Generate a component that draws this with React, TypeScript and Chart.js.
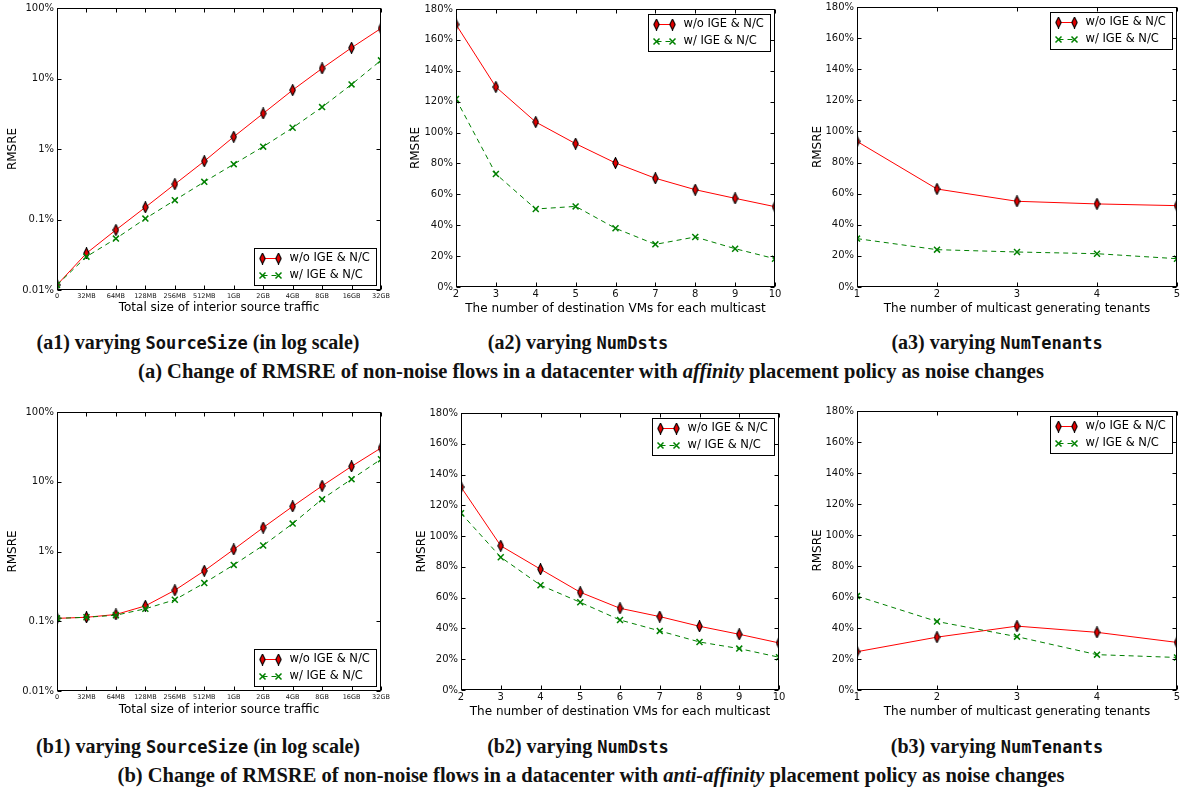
import React, { useEffect, useRef } from 'react';
import { Chart, registerables } from 'chart.js';

Chart.register(...registerables);

// ---------------- data ----------------
const SERIES_NAMES = ['w/o IGE & N/C', 'w/ IGE & N/C'];
const Y_TITLE = 'RMSRE';

const sizeLabels = ['0', '32MB', '64MB', '128MB', '256MB', '512MB', '1GB', '2GB', '4GB', '8GB', '16GB', '32GB'];
const dstLabels = ['2', '3', '4', '5', '6', '7', '8', '9', '10'];
const tenantLabels = ['1', '2', '3', '4', '5'];

const logTickValues = [0.01, 0.1, 1, 10, 100];
const linTickValues = [0, 20, 40, 60, 80, 100, 120, 140, 160, 180];

// (a) affinity
const a1Without = [0.0118, 0.0332, 0.0711, 0.149, 0.317, 0.671, 1.49, 3.19, 6.85, 13.9, 27.3, 51.4];
const a1With = [0.0118, 0.0297, 0.0536, 0.103, 0.188, 0.342, 0.609, 1.08, 2.0, 3.93, 8.24, 18.1];
const a2Without = [170, 129.5, 106.8, 92.8, 80.3, 70.4, 63.0, 57.4, 52.0];
const a2With = [121.7, 73.2, 50.5, 52.2, 38.0, 27.6, 32.4, 24.8, 18.3];
const a3Without = [93.6, 63.0, 55.1, 53.4, 52.3];
const a3With = [31.1, 24.0, 22.5, 21.4, 18.2];

// (b) anti-affinity
const b1Without = [0.11, 0.114, 0.125, 0.166, 0.278, 0.528, 1.07, 2.2, 4.43, 8.71, 16.6, 30.5];
const b1With = [0.11, 0.114, 0.122, 0.151, 0.203, 0.353, 0.643, 1.22, 2.51, 5.63, 10.9, 21.0];
const b2Without = [131.9, 93.7, 78.5, 63.5, 53.1, 47.7, 41.4, 36.2, 30.6];
const b2With = [114.9, 86.3, 68.1, 57.0, 45.5, 38.4, 31.2, 26.9, 21.3];
const b3Without = [24.7, 34.1, 41.2, 37.2, 30.7];
const b3With = [60.6, 44.2, 34.4, 22.8, 21.0];

const X_TITLE_SIZE = 'Total size of interior source traffic';
const X_TITLE_DST = 'The number of destination VMs for each multicast';
const X_TITLE_TEN = 'The number of multicast generating tenants';

// ---------------- layout ----------------
const PADL = 62;
const PADT = 10;
const PADB = 34;
const SANS = '"DejaVu Sans", "Bitstream Vera Sans", sans-serif';

type PanelCfg = {
  l: number; t: number; r: number; b: number;
  log: boolean;
  labels: string[];
  without: number[];
  withv: number[];
  xTitle: string;
  legend: 'lr' | 'ur';
  yTitleOff: number;
  xTitleOff: number;
  padR: number;
};

const panels: PanelCfg[] = [
  { l: 57, t: 8, r: 381, b: 290, log: true, labels: sizeLabels, without: a1Without, withv: a1With, xTitle: X_TITLE_SIZE, legend: 'lr', yTitleOff: 44, xTitleOff: 18, padR: 14 },
  { l: 456, t: 9, r: 775, b: 287, log: false, labels: dstLabels, without: a2Without, withv: a2With, xTitle: X_TITLE_DST, legend: 'ur', yTitleOff: 40, xTitleOff: 22, padR: 10 },
  { l: 857, t: 7, r: 1179, b: 287, log: false, labels: tenantLabels, without: a3Without, withv: a3With, xTitle: X_TITLE_TEN, legend: 'ur', yTitleOff: 39, xTitleOff: 22, padR: 4 },
  { l: 57, t: 412, r: 381, b: 691, log: true, labels: sizeLabels, without: b1Without, withv: b1With, xTitle: X_TITLE_SIZE, legend: 'lr', yTitleOff: 44, xTitleOff: 19, padR: 14 },
  { l: 461, t: 413, r: 779, b: 690, log: false, labels: dstLabels, without: b2Without, withv: b2With, xTitle: X_TITLE_DST, legend: 'ur', yTitleOff: 39, xTitleOff: 22, padR: 10 },
  { l: 857, t: 411, r: 1179, b: 690, log: false, labels: tenantLabels, without: b3Without, withv: b3With, xTitle: X_TITLE_TEN, legend: 'ur', yTitleOff: 39, xTitleOff: 22, padR: 4 },
];

function makeDiamond(): HTMLCanvasElement {
  const c = document.createElement('canvas');
  c.width = 7;
  c.height = 12;
  const g = c.getContext('2d')!;
  g.beginPath();
  g.moveTo(3.5, 0.6);
  g.lineTo(6.2, 6);
  g.lineTo(3.5, 11.4);
  g.lineTo(0.8, 6);
  g.closePath();
  g.fillStyle = '#e00000';
  g.fill();
  g.strokeStyle = '#000000';
  g.lineWidth = 1.1;
  g.stroke();
  return c;
}

function drawX(ctx: CanvasRenderingContext2D, x: number, y: number) {
  const d = 3;
  ctx.save();
  ctx.setLineDash([]);
  ctx.strokeStyle = '#008000';
  ctx.lineWidth = 1.5;
  ctx.beginPath();
  ctx.moveTo(x - d, y - d);
  ctx.lineTo(x + d, y + d);
  ctx.moveTo(x - d, y + d);
  ctx.lineTo(x + d, y - d);
  ctx.stroke();
  ctx.restore();
}

function framePlugin(pos: 'lr' | 'ur', diamond: HTMLCanvasElement) {
  return {
    id: 'mplFrame',
    afterDatasetsDraw(chart: any) {
      const { ctx, chartArea } = chart;
      const { left, top, right, bottom } = chartArea;
      const xs = chart.scales.x;
      const ys = chart.scales.y;
      const L = Math.round(left) + 0.5;
      const R = Math.round(right) - 0.5;
      const T = Math.round(top) + 0.5;
      const B = Math.round(bottom) - 0.5;
      ctx.save();
      ctx.strokeStyle = '#000';
      ctx.lineWidth = 1;
      ctx.setLineDash([]);
      ctx.strokeRect(L, T, R - L, B - T);
      ctx.beginPath();
      xs.ticks.forEach((_t: any, i: number) => {
        const px = Math.round(xs.getPixelForTick(i)) + 0.5;
        ctx.moveTo(px, B);
        ctx.lineTo(px, B - 4);
        ctx.moveTo(px, T);
        ctx.lineTo(px, T + 4);
      });
      ys.ticks.forEach((t: any) => {
        const py = Math.round(ys.getPixelForValue(t.value)) + 0.5;
        ctx.moveTo(L, py);
        ctx.lineTo(L + 4, py);
        ctx.moveTo(R, py);
        ctx.lineTo(R - 4, py);
      });
      ctx.stroke();

      // legend
      const bw = 122;
      const bh = 37;
      const bx = Math.round(right - 5 - bw) + 0.5;
      const by = pos === 'lr' ? Math.round(bottom - 5 - bh) + 0.5 : Math.round(top + 5) + 0.5;
      ctx.fillStyle = '#fff';
      ctx.fillRect(bx, by, bw, bh);
      ctx.strokeStyle = '#000';
      ctx.lineWidth = 1;
      ctx.strokeRect(bx, by, bw, bh);
      const rows = [by + 10, by + 27];
      const x1 = bx + 8;
      const x2 = bx + 24;
      // red row
      ctx.strokeStyle = '#ff0000';
      ctx.beginPath();
      ctx.moveTo(x1, rows[0]);
      ctx.lineTo(x2, rows[0]);
      ctx.stroke();
      ctx.drawImage(diamond, x1 - diamond.width / 2, rows[0] - diamond.height / 2);
      ctx.drawImage(diamond, x2 - diamond.width / 2, rows[0] - diamond.height / 2);
      // green row
      ctx.strokeStyle = '#008000';
      ctx.setLineDash([5, 4]);
      ctx.beginPath();
      ctx.moveTo(x1, rows[1]);
      ctx.lineTo(x2, rows[1]);
      ctx.stroke();
      ctx.setLineDash([]);
      drawX(ctx, x1, rows[1]);
      drawX(ctx, x2, rows[1]);
      ctx.fillStyle = '#000';
      ctx.font = '11.5px ' + SANS;
      ctx.textBaseline = 'middle';
      ctx.textAlign = 'left';
      ctx.fillText(SERIES_NAMES[0], bx + 35, rows[0]);
      ctx.fillText(SERIES_NAMES[1], bx + 35, rows[1]);
      ctx.restore();
    },
  };
}

function Panel({ cfg }: { cfg: PanelCfg }) {
  const ref = useRef<HTMLCanvasElement>(null);
  const w = cfg.r - cfg.l + PADL + cfg.padR;
  const h = cfg.b - cfg.t + PADT + PADB;

  useEffect(() => {
    const canvas = ref.current!;
    const diamond = makeDiamond();
    const tickFontX = cfg.log ? { family: SANS, size: 6.5 } : { family: SANS, size: 10 };
    const yScale: any = cfg.log
      ? {
          type: 'logarithmic',
          min: 0.01,
          max: 100,
          afterBuildTicks: (s: any) => {
            s.ticks = logTickValues.map((v) => ({ value: v }));
          },
        }
      : {
          type: 'linear',
          min: 0,
          max: 180,
          afterBuildTicks: (s: any) => {
            s.ticks = linTickValues.map((v) => ({ value: v }));
          },
        };
    const chart = new Chart(canvas, {
      type: 'line',
      data: {
        labels: cfg.labels,
        datasets: [
          {
            label: SERIES_NAMES[0],
            data: cfg.without,
            borderColor: '#ff0000',
            backgroundColor: '#ff0000',
            borderWidth: 1,
            pointStyle: diamond as any,
            pointRadius: 5,
            pointHoverRadius: 5,
            tension: 0,
            clip: 0 as any,
            order: 1,
          },
          {
            label: SERIES_NAMES[1],
            data: cfg.withv,
            borderColor: '#008000',
            backgroundColor: '#008000',
            borderWidth: 1,
            borderDash: [5, 4],
            pointStyle: 'crossRot',
            pointRadius: 4.2,
            pointHoverRadius: 4.2,
            pointBorderWidth: 1.5,
            pointBorderColor: '#008000',
            tension: 0,
            clip: 0 as any,
            order: 0,
          },
        ],
      },
      options: {
        responsive: false,
        maintainAspectRatio: false,
        animation: false,
        devicePixelRatio: 1,
        events: [],
        layout: { padding: { left: 0, top: PADT, right: cfg.padR, bottom: 0 } },
        plugins: { legend: { display: false }, tooltip: { enabled: false }, title: { display: false } },
        scales: {
          x: {
            type: 'category',
            offset: false,
            grid: { display: false, drawTicks: false },
            border: { display: false },
            ticks: {
              autoSkip: false,
              maxRotation: 0,
              minRotation: 0,
              padding: cfg.log ? 2 : 1,
              color: '#111',
              font: tickFontX,
            },
            title: {
              display: true,
              text: cfg.xTitle,
              color: '#000',
              font: { family: SANS, size: 12 },
              padding: { top: 0, bottom: PADB - 7.2 - cfg.xTitleOff },
            },
            afterFit: (s: any) => {
              s.height = PADB;
              s.paddingLeft = 0;
              s.paddingRight = 0;
            },
          },
          y: {
            ...yScale,
            grid: { display: false, drawTicks: false },
            border: { display: false },
            ticks: {
              padding: 3,
              color: '#111',
              font: { family: SANS, size: 10 },
              callback: (v: any) => `${Number(v)}%`,
            },
            title: {
              display: true,
              text: Y_TITLE,
              color: '#000',
              font: { family: SANS, size: 12 },
              padding: { top: PADL - cfg.yTitleOff - 7.2, bottom: 0 },
            },
            afterFit: (s: any) => {
              s.width = PADL;
              s.paddingTop = 0;
              s.paddingBottom = 0;
            },
          },
        },
      },
      plugins: [framePlugin(cfg.legend, diamond) as any],
    });
    return () => chart.destroy();
  }, []);

  return (
    <canvas
      ref={ref}
      width={w}
      height={h}
      style={{ position: 'absolute', left: cfg.l - PADL, top: cfg.t - PADT, width: w, height: h, display: 'block' }}
    />
  );
}

const SERIF = '"Liberation Serif", "DejaVu Serif", serif';
const MONO = '"DejaVu Sans Mono", "Liberation Mono", monospace';

function Caption({ x, y, children, size = 20 }: { x: number; y: number; children: React.ReactNode; size?: number }) {
  return (
    <div
      style={{
        position: 'absolute',
        left: x,
        top: y,
        transform: 'translate(-50%, -50%)',
        whiteSpace: 'nowrap',
        fontFamily: SERIF,
        fontWeight: 'bold',
        fontSize: size,
        lineHeight: 1.1,
        color: '#111',
      }}
    >
      {children}
    </div>
  );
}

const Mono = ({ children }: { children: React.ReactNode }) => (
  <span style={{ fontFamily: MONO, fontWeight: 'bold', fontSize: 17 }}>{children}</span>
);

export default function App() {
  return (
    <div style={{ position: 'absolute', left: 0, top: 0, width: 1183, height: 789, overflow: 'hidden', background: '#fff' }}>
      {panels.map((p, i) => (
        <Panel key={i} cfg={p} />
      ))}
      <Caption x={198} y={342}>(a1) varying <Mono>SourceSize</Mono> (in log scale)</Caption>
      <Caption x={578} y={342}>(a2) varying <Mono>NumDsts</Mono></Caption>
      <Caption x={997} y={342}>(a3) varying <Mono>NumTenants</Mono></Caption>
      <Caption x={591} y={371} size={20.5}>
        (a) Change of RMSRE of non-noise flows in a datacenter with <i>affinity</i> placement policy as noise changes
      </Caption>
      <Caption x={198} y={746}>(b1) varying <Mono>SourceSize</Mono> (in log scale)</Caption>
      <Caption x={578} y={746}>(b2) varying <Mono>NumDsts</Mono></Caption>
      <Caption x={997} y={746}>(b3) varying <Mono>NumTenants</Mono></Caption>
      <Caption x={591} y={775} size={20.5}>
        (b) Change of RMSRE of non-noise flows in a datacenter with <i>anti-affinity</i> placement policy as noise changes
      </Caption>
    </div>
  );
}
